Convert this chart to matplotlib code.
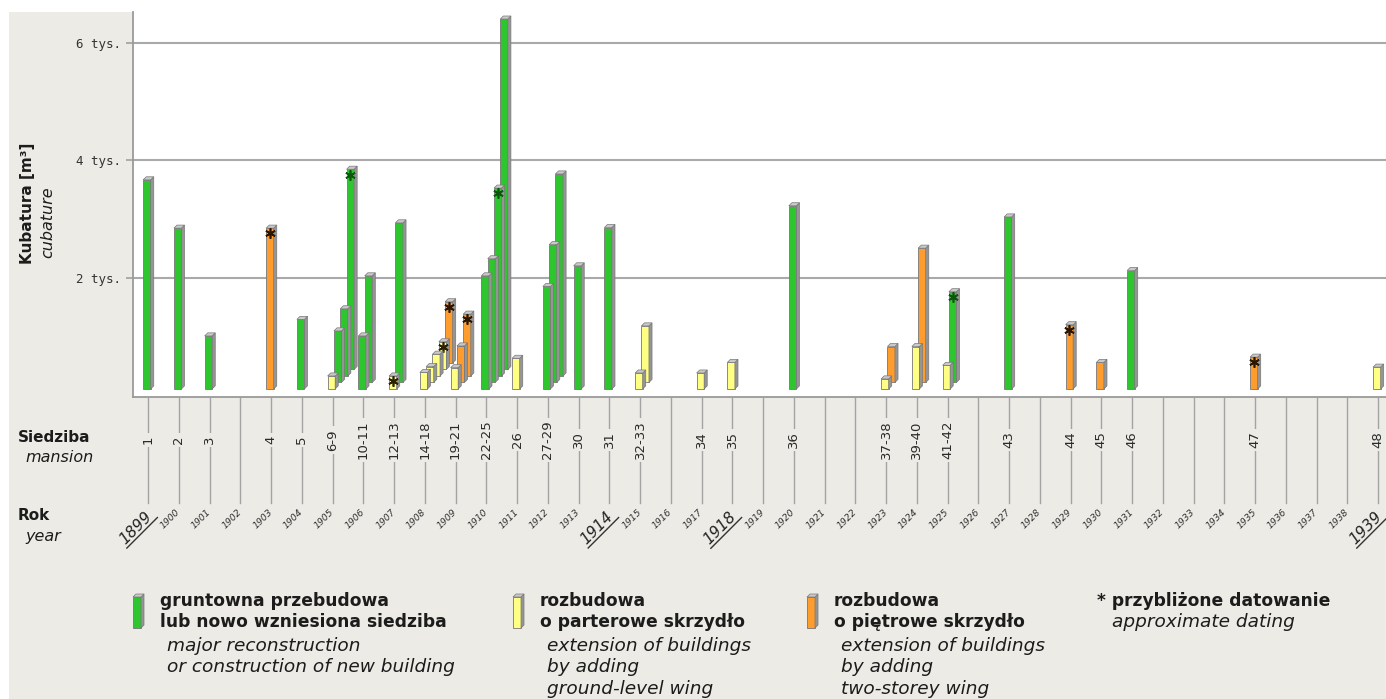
import matplotlib

matplotlib.use("Agg")
import matplotlib.pyplot as plt
from matplotlib.patches import Polygon, Rectangle
from matplotlib.textpath import TextPath
from matplotlib.font_manager import FontProperties

# --- data -------------------------------------------------------------
mansion_years = [1899, 1900, 1901, 1903, 1904, 1905, 1906, 1907, 1908, 1909,
                 1910, 1911, 1912, 1913, 1914, 1915, 1917, 1918, 1920, 1923,
                 1924, 1925, 1927, 1929, 1930, 1931, 1935, 1939]
mansion_labels = ["1", "2", "3", "4", "5", "6-9", "10-11", "12-13", "14-18",
                  "19-21", "22-25", "26", "27-29", "30", "31", "32-33", "34",
                  "35", "36", "37-38", "39-40", "41-42", "43", "44", "45", "46",
                  "47", "48"]

# one entry per bar; bars of the same year stand one behind another
bar_years = [1899, 1900, 1901, 1903, 1904,
             1905, 1905, 1905, 1905,
             1906, 1906,
             1907, 1907,
             1908, 1908, 1908, 1908, 1908,
             1909, 1909, 1909,
             1910, 1910, 1910, 1910,
             1911,
             1912, 1912, 1912,
             1913, 1914,
             1915, 1915,
             1917, 1918, 1920,
             1923, 1923,
             1924, 1924,
             1925, 1925,
             1927, 1929, 1930, 1931, 1935, 1939]
bar_kinds = ["g", "g", "g", "o", "g",
             "y", "g", "g", "g",
             "g", "g",
             "y", "g",
             "y", "y", "y", "y", "o",
             "y", "o", "o",
             "g", "g", "g", "g",
             "y",
             "g", "g", "g",
             "g", "g",
             "y", "y",
             "y", "y", "g",
             "y", "o",
             "y", "o",
             "y", "g",
             "g", "o", "o", "g", "o", "y"]
bar_volumes = [3550, 2730, 900, 2730, 1180,
               220, 875, 1140, 3400,
               900, 1810,
               220, 2710,
               280, 270, 370, 470, 1040,
               360, 620, 1050,
               1920, 2100, 3190, 5950,
               520,
               1740, 2340, 3430,
               2090, 2740,
               270, 960,
               270, 450, 3110,
               170, 610,
               720, 2280,
               400, 1540,
               2920, 1090, 450, 2010, 540, 370]
bar_approx = [False, False, False, True, False,
              False, False, False, True,
              False, False,
              True, False,
              False, False, False, True, True,
              False, False, True,
              False, False, True, False,
              False,
              False, False, False,
              False, False,
              False, False,
              False, False, False,
              False, False,
              False, False,
              False, True,
              False, True, False, False, True, False]

all_years = list(range(1899, 1940))
big_years = [1899, 1914, 1918, 1939]
ytick_values = [2000, 4000, 6000]
ytick_labels = ["2 tys.", "4 tys.", "6 tys."]

# --- style ------------------------------------------------------------
BG = "#ecebe6"
FACE = {"g": "#2ec62e", "y": "#ffff84", "o": "#ff9c2e"}
STAR = {"g": "#0d560d", "y": "#2a2200", "o": "#2a1500"}
SIDE = "#959595"
TOP = "#c9c9c9"
EDGE = "#777777"
INK = "#1c1c1c"

W, H = 1386, 699
fig = plt.figure(figsize=(W / 100, H / 100), dpi=100, facecolor="white")

# full-figure overlay in pixel units (y down) for background and legend
bg = fig.add_axes([0, 0, 1, 1], zorder=0)
bg.set_xlim(0, W)
bg.set_ylim(H, 0)
bg.axis("off")
bg.add_patch(Rectangle((9, 12), W - 9, H - 12, facecolor=BG, edgecolor="none"))

AX_L, AX_T, AX_B = 133, 12, 397
ax = fig.add_axes([AX_L / W, 1 - AX_B / H, (W - AX_L) / W, (AX_B - AX_T) / H], zorder=1)
ax.set_facecolor("white")
ax.set_xlim(1898.51, 1939.26)
ax.set_ylim(-17, 6520)


def yfrac(py):
    # pixel row -> axes fraction of the main axes
    return (AX_B - py) / (AX_B - AX_T)


# 3D-ish bar geometry in data units
FW = 0.245      # front width (years)
SX, SY = 0.10, 52   # side/top depth
DX, DY = 0.205, 110  # shift per step backwards
BASE = 120

depth = {}
for yr, kind, vol, approx in zip(bar_years, bar_kinds, bar_volumes, bar_approx):
    k = depth.get(yr, 0)
    depth[yr] = k + 1
    x0 = yr - 0.16 + k * DX
    b = BASE + k * DY
    t = b + vol
    z = 10 - k
    ax.bar(x0, vol, width=FW, bottom=b, align="edge", color=FACE[kind],
           edgecolor=EDGE, linewidth=0.6, zorder=z)
    ax.add_patch(Polygon([(x0 + FW, b), (x0 + FW + SX, b + SY), (x0 + FW + SX, t + SY),
                          (x0 + FW, t)], closed=True, facecolor=SIDE,
                         edgecolor=EDGE, linewidth=0.5, zorder=z))
    ax.add_patch(Polygon([(x0, t), (x0 + FW, t), (x0 + FW + SX, t + SY), (x0 + SX, t + SY)],
                         closed=True, facecolor=TOP, edgecolor=EDGE, linewidth=0.5, zorder=z))
    if approx:
        ax.plot(x0 + FW / 2, t - 90, marker=(6, 2, 0), ms=7.5, mew=1.2,
                color=STAR[kind], zorder=z + 0.5)

ax.set_yticks(ytick_values, ytick_labels)
ax.set_xticks([])
ax.tick_params(axis="y", length=5, width=1.2, color="#a0a0a0", pad=3.5,
               labelsize=9, labelcolor="#333333")
for lab in ax.get_yticklabels():
    lab.set_fontfamily("DejaVu Sans Mono")
ax.grid(axis="y", color="#a9a9a9", linewidth=1.5)
ax.set_axisbelow(True)
for side in ("top", "right"):
    ax.spines[side].set_visible(False)
for side in ("left", "bottom"):
    ax.spines[side].set_color("#9a9a9a")
    ax.spines[side].set_linewidth(1.3)

# --- below the axis: year lines, mansion numbers, years ----------------
trans = ax.get_xaxis_transform()
for yr in all_years:
    ax.plot([yr, yr], [yfrac(398), yfrac(503)], transform=trans, clip_on=False,
            color="#a3a3a3", linewidth=1.0, zorder=1)

for yr, lab in zip(mansion_years, mansion_labels):
    ax.text(yr, yfrac(440), lab, transform=trans, rotation=90, ha="center",
            va="center", fontsize=9.5, color="#2a2a2a", clip_on=False, zorder=3,
            bbox=dict(facecolor=BG, edgecolor="none", pad=2.0))

big_fp = FontProperties(family="DejaVu Sans", style="italic", size=11)
for yr in all_years:
    if yr in big_years:
        xoff = 0.05
        ax.text(yr + xoff, yfrac(514), str(yr), transform=trans, rotation=45,
                rotation_mode="anchor", ha="right", va="center",
                fontproperties=big_fp, color="#222222", clip_on=False)
        # underline parallel to the rotated text
        px = ax.transData.transform((yr + xoff, 0))[0]
        L = TextPath((0, 0), str(yr), size=11 * 100 / 72, prop=big_fp).get_extents().width
        d = 8.0
        c, s = 0.7071, 0.7071
        sx, sy = px + c * d + c * 3, 514 + s * d - s * 3
        ex, ey = px + c * d - c * (L + 3), 514 + s * d + s * (L + 3)
        bg.plot([sx, ex], [sy, ey], color="#333333", linewidth=1.0)
    else:
        ax.text(yr, yfrac(511), str(yr), transform=trans, rotation=45,
                rotation_mode="anchor", ha="right", va="center", fontsize=6.7,
                style="italic", color="#333333", clip_on=False)

# --- left-hand labels -------------------------------------------------
bg.text(27.5, 203, "Kubatura [m³]", rotation=90, ha="center", va="center",
        fontsize=11, fontweight="bold", color=INK)
bg.text(48, 222, "cubature", rotation=90, ha="center", va="center",
        fontsize=11.5, style="italic", color=INK)
bg.text(18, 437, "Siedziba", ha="left", va="center", fontsize=11,
        fontweight="bold", color=INK)
bg.text(25, 457, "mansion", ha="left", va="center", fontsize=11.5,
        style="italic", color=INK)
bg.text(18, 515, "Rok", ha="left", va="center", fontsize=11,
        fontweight="bold", color=INK)
bg.text(25, 537, "year", ha="left", va="center", fontsize=11.5,
        style="italic", color=INK)

# --- legend -----------------------------------------------------------
legend_items = [
    ("g", 133, ["gruntowna przebudowa", "lub nowo wzniesiona siedziba"],
     ["major reconstruction", "or construction of new building"]),
    ("y", 513, ["rozbudowa", "o parterowe skrzydło"],
     ["extension of buildings", "by adding", "ground-level wing"]),
    ("o", 807, ["rozbudowa", "o piętrowe skrzydło"],
     ["extension of buildings", "by adding", "two-storey wing"]),
]
bold_rows = [601, 622]
ital_rows = [646, 667, 689]
for kind, mx, bold_lines, ital_lines in legend_items:
    top, bot, fw, dd = 597, 628, 8, 3
    bg.add_patch(Rectangle((mx, top), fw, bot - top, facecolor=FACE[kind],
                           edgecolor=EDGE, linewidth=0.6))
    bg.add_patch(Polygon([(mx + fw, bot), (mx + fw + dd, bot - dd), (mx + fw + dd, top - dd),
                          (mx + fw, top)], facecolor=SIDE, edgecolor=EDGE, linewidth=0.5))
    bg.add_patch(Polygon([(mx, top), (mx + fw, top), (mx + fw + dd, top - dd), (mx + dd, top - dd)],
                         facecolor=TOP, edgecolor=EDGE, linewidth=0.5))
    for row, line in zip(bold_rows, bold_lines):
        bg.text(mx + 27, row, line, ha="left", va="center", fontsize=12.3,
                fontweight="bold", color=INK)
    for row, line in zip(ital_rows, ital_lines):
        bg.text(mx + 34, row, line, ha="left", va="center", fontsize=13.3,
                style="italic", color=INK)

bg.text(1097, 601, "* przybliżone datowanie", ha="left", va="center",
        fontsize=12.3, fontweight="bold", color=INK)
bg.text(1112, 622, "approximate dating", ha="left", va="center",
        fontsize=13.3, style="italic", color=INK)

fig.savefig("out.png", dpi=100, facecolor=fig.get_facecolor())
plt.close(fig)
